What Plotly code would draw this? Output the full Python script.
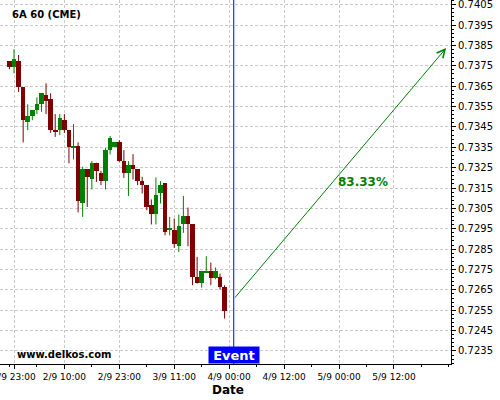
import plotly.graph_objects as go

# ---- data (hourly candles, 6A 60 CME) ----
opens = [0.73773, 0.73745, 0.73773, 0.73646, 0.73475, 0.73503, 0.73533, 0.73562,
         0.73606, 0.73585, 0.73434, 0.73434, 0.73483, 0.73434, 0.73349, 0.73356,
         0.73077, 0.73243, 0.73195, 0.73274, 0.73224, 0.73185, 0.73336, 0.73349,
         0.73375, 0.73282, 0.73224, 0.73262, 0.73243, 0.73185, 0.73164, 0.73066,
         0.73022, 0.73126, 0.73174, 0.72944, 0.72943, 0.72866, 0.72972, 0.73012,
         0.72972, 0.72713, 0.72684, 0.72735, 0.72741, 0.72706, 0.72712, 0.72663]
highs = [0.73773, 0.73831, 0.73803, 0.73646, 0.73561, 0.73533, 0.73595, 0.73616,
         0.73664, 0.73615, 0.73513, 0.73513, 0.73513, 0.73434, 0.73464, 0.73374,
         0.73254, 0.73243, 0.73282, 0.73274, 0.73234, 0.73346, 0.73406, 0.73375,
         0.73385, 0.73336, 0.73282, 0.73316, 0.73243, 0.73205, 0.73164, 0.73094,
         0.73202, 0.73184, 0.73174, 0.73008, 0.73000, 0.73020, 0.73111, 0.73054,
         0.72972, 0.72812, 0.72741, 0.72815, 0.72784, 0.72760, 0.72730, 0.72673]
lows = [0.73733, 0.73713, 0.73622, 0.73374, 0.73434, 0.73483, 0.73513, 0.73524,
        0.73513, 0.73421, 0.73401, 0.73410, 0.73420, 0.73271, 0.73290, 0.73030,
        0.73008, 0.73057, 0.73143, 0.73180, 0.73164, 0.73143, 0.73315, 0.73349,
        0.73278, 0.73200, 0.73111, 0.73192, 0.73164, 0.73123, 0.73041, 0.72971,
        0.72971, 0.73074, 0.72918, 0.72918, 0.72856, 0.72835, 0.72930, 0.72864,
        0.72673, 0.72681, 0.72661, 0.72735, 0.72673, 0.72702, 0.72652, 0.72509]
closes = [0.73745, 0.73783, 0.73647, 0.73483, 0.73503, 0.73533, 0.73562, 0.73616,
          0.73578, 0.73434, 0.73426, 0.73492, 0.73434, 0.73352, 0.73356, 0.73087,
          0.73243, 0.73205, 0.73274, 0.73234, 0.73185, 0.73336, 0.73396, 0.73375,
          0.73282, 0.73224, 0.73262, 0.73243, 0.73185, 0.73164, 0.73057, 0.73022,
          0.73115, 0.73164, 0.72935, 0.72951, 0.72874, 0.72963, 0.73012, 0.72972,
          0.72713, 0.72684, 0.72741, 0.72741, 0.72706, 0.72741, 0.72664, 0.72546]

x_tick_pos = [1, 12, 24, 36, 48, 60, 72, 84]
x_tick_labels = ["1/9 23:00", "2/9 10:00", "2/9 23:00", "3/9 11:00",
                 "4/9 00:00", "4/9 12:00", "5/9 00:00", "5/9 12:00"]
y_tick_vals = [0.7235, 0.7245, 0.7255, 0.7265, 0.7275, 0.7285, 0.7295, 0.7305,
               0.7315, 0.7325, 0.7335, 0.7345, 0.7355, 0.7365, 0.7375, 0.7385,
               0.7395, 0.7405]
y_tick_labels = ["%.4f" % v for v in y_tick_vals]

event_x = 49
arrow_x = [49, 95.4]
arrow_y = [0.72605, 0.73837]
prob_label = "83.33%"
prob_pos = (77.2, 0.73179)

RED = "#800000"
GREEN = "#008000"

idx = list(range(len(opens)))
colors = [GREEN if c >= o else RED for o, c in zip(opens, closes)]

fig = go.Figure()

# wicks
for col in (RED, GREEN):
    wx, wy = [], []
    for i in idx:
        if colors[i] == col:
            wx += [i, i, None]
            wy += [lows[i], highs[i], None]
    fig.add_trace(go.Scatter(x=wx, y=wy, mode="lines",
                             line=dict(color=col, width=1),
                             hoverinfo="skip", showlegend=False))

# bodies
fig.add_trace(go.Bar(
    x=idx,
    base=[min(o, c) for o, c in zip(opens, closes)],
    y=[abs(c - o) for o, c in zip(opens, closes)],
    width=1.0,
    marker=dict(color=colors, line=dict(width=0)),
    showlegend=False,
))

# event line
fig.add_shape(type="line", xref="x", yref="paper", x0=event_x, x1=event_x,
              y0=0, y1=1, line=dict(color="#0000ff", width=1))

# projection arrow
fig.add_annotation(x=arrow_x[1], y=arrow_y[1], ax=arrow_x[0], ay=arrow_y[0],
                   xref="x", yref="y", axref="x", ayref="y",
                   showarrow=True, arrowhead=5, arrowsize=1.6, arrowwidth=1,
                   arrowcolor=GREEN, text="")

fig.add_annotation(x=prob_pos[0], y=prob_pos[1], xref="x", yref="y",
                   text="<b>%s</b>" % prob_label, showarrow=False,
                   font=dict(family="DejaVu Sans", size=12, color=GREEN))

# title & watermark
fig.add_annotation(x=10 / 451, y=1 - 15 / 364, xref="paper", yref="paper",
                   text="<b>6A 60 (CME)</b>", showarrow=False,
                   xanchor="left", yanchor="middle",
                   font=dict(family="DejaVu Sans", size=10, color="black"))
fig.add_annotation(x=15 / 451, y=1 - 354 / 364, xref="paper", yref="paper",
                   text="<b>www.delkos.com</b>", showarrow=False,
                   xanchor="left", yanchor="middle",
                   font=dict(family="DejaVu Sans", size=10, color="black"))

# event label
fig.add_annotation(x=event_x, y=0, xref="x", yref="paper",
                   text="<b>Event</b>", showarrow=False,
                   xanchor="center", yanchor="bottom",
                   width=50, height=16, borderpad=0,
                   bgcolor="#0000ff",
                   font=dict(family="DejaVu Sans", size=13, color="white"))

# x axis title
fig.add_annotation(x=228 / 451, y=1 - 390 / 364, xref="paper", yref="paper",
                   text="<b>Date</b>", showarrow=False,
                   xanchor="center", yanchor="middle",
                   font=dict(family="DejaVu Sans", size=12, color="black"))

fig.update_layout(
    width=500, height=400,
    margin=dict(l=0, r=49, t=0, b=36, autoexpand=False),
    paper_bgcolor="white", plot_bgcolor="white",
    font=dict(family="DejaVu Sans", color="black"),
    showlegend=False,
    bargap=0,
)

fig.update_xaxes(
    automargin=False,
    range=[-2.06, 96.46],
    tickmode="array", tickvals=x_tick_pos, ticktext=x_tick_labels,
    tickfont=dict(size=9, family="DejaVu Sans", color="black"),
    ticklabeloverflow="allow",
    ticks="outside", ticklen=4, tickcolor="black", tickwidth=1,
    showline=True, linecolor="black", linewidth=1,
    showgrid=True, gridcolor="#c8c8c8", gridwidth=1, griddash="3px,2px",
    zeroline=False,
    minor=dict(dtick=6, tick0=0, ticks="outside", ticklen=2,
               tickcolor="black", showgrid=False),
)

fig.update_yaxes(
    automargin=False,
    side="right",
    range=[0.72286, 0.74073],
    tickmode="array", tickvals=y_tick_vals, ticktext=y_tick_labels,
    tickfont=dict(size=10, family="DejaVu Sans", color="black"),
    ticklabeloverflow="allow",
    ticks="outside", ticklen=4, tickcolor="black", tickwidth=1,
    showline=True, linecolor="black", linewidth=1,
    showgrid=True, gridcolor="#c8c8c8", gridwidth=1, griddash="3px,2px",
    zeroline=False,
    minor=dict(dtick=0.0002, tick0=0.7235, ticks="outside", ticklen=2,
               tickcolor="black", showgrid=False),
)

fig.write_html("out.html",
               config={"displayModeBar": False},
               post_script="document.body.style.margin='0';document.body.style.padding='0';")
